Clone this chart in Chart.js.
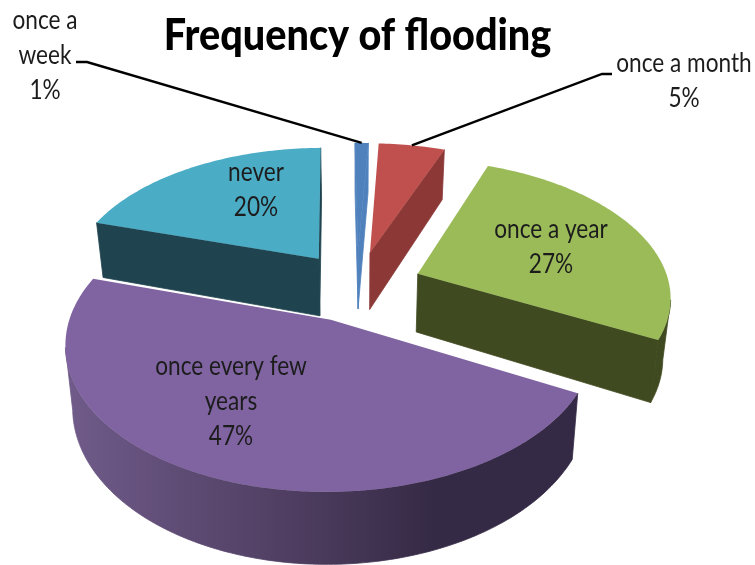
<!DOCTYPE html>
<html>
<head>
<meta charset="utf-8">
<title>Frequency of flooding</title>
<script src="https://cdn.jsdelivr.net/npm/chart.js@4/dist/chart.umd.min.js"></script>
<style>
  html, body { margin: 0; background: #fff; }
  canvas { display: block; }
</style>
</head>
<body>
<canvas id="floodChart" width="755" height="565"></canvas>
<script>
const chartTitle = 'Frequency of flooding';
const categories = ['once a week', 'once a month', 'once a year', 'once every few years', 'never'];
const shares = [1, 5, 27, 47, 20];
const labelLines = [['once a', 'week'], ['once a month'], ['once a year'], ['once every few', 'years'], ['never']];

const topColors = ['#4f81bd', '#c0504d', '#9bbb59', '#8064a2', '#4bacc6'];
const wallColors = ['#4f81bd', '#8c3836', '#404a21', null, '#1f444f'];
// the big slice has a shaded rim, left to right
const rimStops = [[0, '#705b8a'], [0.45, '#4e3d60'], [0.72, '#352a45'], [1, '#352a45']];

// camera for the tilted pie: rx/ry are the disc half axes, k is the perspective strength
const view = { rx: 252, ry: 135, k: 0.15, depth: 59, floorScale: 0.975 };
const explode = 47;

// text anchors and leader lines, by slice index
const labelPlace = [
  { x: 45, y: 21, leader: [76, 62, 87, 62] },
  { x: 684, y: 64, leader: [612, 74, 602, 74] },
  { x: 551, y: 230 },
  { x: 231, y: 367 },
  { x: 256, y: 173 }
];

const deg = Math.PI / 180;

function slicePaths(arc) {
  const r = arc.outerRadius;
  const a0 = arc.startAngle + Math.PI / 2;
  const a1 = arc.endAngle + Math.PI / 2;
  const mid = (a0 + a1) / 2;
  const off = (arc.options.offset || 0) / r;
  const ox = Math.sin(mid) * off, oy = Math.cos(mid) * off;

  const project = (wx, wy, floor) => {
    const s = 1 / (1 + view.k * wy);
    const px = view.rx * wx * s * (floor ? view.floorScale : 1);
    const py = -view.ry * wy * s + (floor ? view.depth * s : 0);
    return [arc.x + px, arc.y + py];
  };
  const rim = (a, floor) => project(ox + Math.sin(a), oy + Math.cos(a), floor);
  const apex = (floor) => project(ox, oy, floor);
  // a wall shows when its outward normal points towards the camera
  const faces = (wx, wy, nx, ny) => (-wx) * nx + (-1 / view.k - wy) * ny > 0;

  return { a0, a1, mid, ox, oy, rim, apex, faces };
}

function fillPoly(ctx, pts, color, seal) {
  ctx.beginPath();
  pts.forEach((p, i) => (i ? ctx.lineTo(p[0], p[1]) : ctx.moveTo(p[0], p[1])));
  ctx.closePath();
  ctx.fillStyle = color;
  ctx.fill();
  // walls sit edge to edge, a hairline closes the gap between them
  if (seal) {
    ctx.strokeStyle = color;
    ctx.lineWidth = 0.8;
    ctx.stroke();
  }
}

function drawSlice(ctx, arc, i) {
  const p = slicePaths(arc);
  const steps = Math.max(2, Math.ceil((p.a1 - p.a0) / deg));
  const da = (p.a1 - p.a0) / steps;

  // curved outer wall: only the stretch that faces the camera
  const upper = [], lower = [];
  for (let s = 0; s <= steps; s++) {
    const a = p.a0 + s * da;
    if (!p.faces(p.ox + Math.sin(a), p.oy + Math.cos(a), Math.sin(a), Math.cos(a))) continue;
    upper.push(p.rim(a, false));
    lower.unshift(p.rim(a, true));
  }
  const wallPts = upper.concat(lower);
  let wall = wallColors[i];
  if (!wall) {
    const xs = wallPts.map(q => q[0]);
    wall = ctx.createLinearGradient(Math.min(...xs), 0, Math.max(...xs), 0);
    rimStops.forEach(st => wall.addColorStop(st[0], st[1]));
  }
  if (wallPts.length) fillPoly(ctx, wallPts, wall, true);

  // straight cut faces
  [[p.a0, p.a0 - Math.PI / 2], [p.a1, p.a1 + Math.PI / 2]].forEach(([a, n]) => {
    const wx = p.ox + Math.sin(a) / 2, wy = p.oy + Math.cos(a) / 2;
    if (!p.faces(wx, wy, Math.sin(n), Math.cos(n))) return;
    fillPoly(ctx, [p.apex(false), p.rim(a, false), p.rim(a, true), p.apex(true)], wall, true);
  });

  // top face
  const top = [p.apex(false)];
  for (let s = 0; s <= steps; s++) top.push(p.rim(p.a0 + s * da, false));
  fillPoly(ctx, top, topColors[i], false);
}

function fittedText(ctx, text, x, y, font, squeeze) {
  ctx.save();
  ctx.font = font;
  ctx.textAlign = 'center';
  ctx.textBaseline = 'middle';
  ctx.translate(x, y);
  ctx.scale(squeeze, 1);
  ctx.fillText(text, 0, 0);
  ctx.restore();
}

const pie3d = {
  id: 'pie3d',
  beforeDatasetsDraw(chart) {
    const ctx = chart.ctx;
    const arcs = chart.getDatasetMeta(0).data;

    // far slices first so near ones overlap them
    const order = arcs.map((arc, i) => ({ i, far: slicePaths(arc).oy })).sort((a, b) => b.far - a.far);
    order.forEach(o => drawSlice(ctx, arcs[o.i], o.i));

    ctx.save();
    ctx.fillStyle = '#000';
    fittedText(ctx, chartTitle, 357.5, 36, '900 44px Lato, sans-serif', 0.9);

    ctx.fillStyle = '#1c1c1c';
    labelLines.forEach((lines, i) => {
      const place = labelPlace[i];
      [...lines, shares[i] + '%'].forEach((t, n) => {
        fittedText(ctx, t, place.x, place.y + n * 34.8, '26px Lato, sans-serif', 0.87);
      });
      if (place.leader) {
        const p = slicePaths(arcs[i]);
        const end = p.rim(p.mid, false);
        const l = place.leader;
        ctx.beginPath();
        ctx.moveTo(l[0], l[1]);
        ctx.lineTo(l[2], l[3]);
        ctx.lineTo(end[0], end[1]);
        ctx.strokeStyle = '#000';
        ctx.lineWidth = 2.4;
        ctx.stroke();
      }
    });
    ctx.restore();
    return false;
  }
};

new Chart(document.getElementById('floodChart'), {
  type: 'pie',
  data: {
    labels: categories,
    datasets: [{
      data: shares,
      backgroundColor: topColors,
      offset: explode,
      borderWidth: 0,
      radius: 180,
      rotation: -0.8
    }]
  },
  options: {
    responsive: false,
    animation: false,
    layout: { padding: { top: 7, right: 41 } },
    plugins: { legend: { display: false }, title: { display: false, text: chartTitle }, tooltip: { enabled: false } }
  },
  plugins: [pie3d]
});
</script>
</body>
</html>
